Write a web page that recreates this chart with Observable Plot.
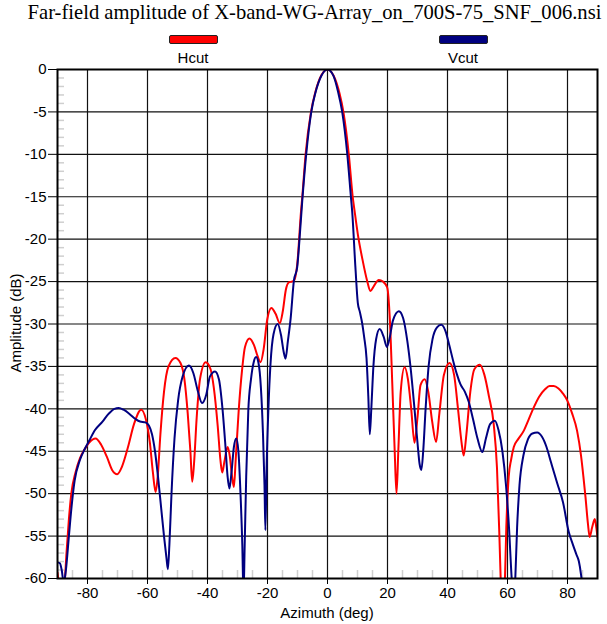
<!DOCTYPE html>
<html>
<head>
<meta charset="utf-8">
<script src="https://cdn.jsdelivr.net/npm/d3@7"></script>
<script src="https://cdn.jsdelivr.net/npm/@observablehq/plot@0.6"></script>
<style>
  body { margin: 0; background: #fff; }
  #wrap { position: relative; width: 607px; height: 624px; font-family: "Liberation Sans", Arial, sans-serif; color: #000; overflow: hidden; }
  #wrap svg { position: absolute; left: 0; top: 0; }
  #title { position: absolute; left: 11px; top: 1px; width: 607px; text-align: center; font-family: "Liberation Serif", "Times New Roman", serif; font-size: 20.6px; white-space: nowrap; }
  .sw { position: absolute; top: 35px; width: 47px; height: 7px; border: 1px solid #222; border-radius: 2px; }
  .lt { position: absolute; top: 49px; width: 80px; text-align: center; font-size: 15px; }
  #ylab { position: absolute; left: 15px; top: 323px; transform: translate(-50%, -50%) rotate(-90deg); font-size: 15px; white-space: nowrap; }
  #xlab { position: absolute; left: 327px; top: 612px; transform: translate(-50%, -50%); font-size: 15px; white-space: nowrap; }
</style>
</head>
<body>
<div id="wrap">
  <div id="title"></div>
  <div id="ylab"></div>
  <div id="xlab"></div>
</div>
<script>
const titleText = "Far-field amplitude of X-band-WG-Array_on_700S-75_SNF_006.nsi";
const seriesNames = ["Hcut", "Vcut"];
const seriesColors = ["#ff0000", "#000080"];
const xLabel = "Azimuth (deg)";
const yLabel = "Amplitude (dB)";
const xTicks = [-80, -60, -40, -20, 0, 20, 40, 60, 80];
const yTicks = [0, -5, -10, -15, -20, -25, -30, -35, -40, -45, -50, -55, -60];

const hcutAz = [-90,-89.4,-88.5,-87.7,-87,-86.2,-85.4,-84,-82.5,-81,-79.5,-77.3,-75.5,-73.5,-71.8,-70.1,-68.5,-66.5,-64.5,-62.1,-60.5,-59.2,-58.2,-57.3,-56.6,-55.7,-54.5,-53,-50.7,-49,-47.7,-46.6,-45.7,-45.1,-44.5,-43.6,-42.5,-40.6,-39,-37.9,-36.6,-35.7,-35.1,-34.4,-33.3,-32.6,-31.8,-31.2,-30.6,-29.6,-28.5,-27.5,-26,-24.5,-23.3,-22.3,-21.3,-20.1,-18.7,-17.3,-15.9,-14.9,-13.9,-12.9,-11.9,-11.2,-10.1,-8.8,-8.4,-7.3,-5.5,-4,-2,0,2,4,5.3,7.1,8.4,9,10.1,11.6,13.2,14.3,15.5,17.1,18.5,19.9,20.8,21.6,22.4,23,23.6,24.4,25.7,26.8,27.9,29,30,31,32.4,33.6,34.9,36.2,37.3,38.8,40.7,42.2,43.5,44.7,45.4,46.3,47.6,49,50.8,52.3,53.8,55.4,56.5,57.3,57.9,58.3,59,59.6,60.4,61.2,62.1,63.5,65.4,67,68.8,70.5,72.5,74,75.4,77,78.5,79.9,81.5,83.2,84.5,85.3,86,86.8,87.4,88.2,89.1,89.6,90];
const hcutDb = [-59.3,-61,-63,-61,-57,-53,-50,-47.5,-45.8,-44.8,-44,-43.5,-44.2,-45.7,-47.2,-47.7,-46.8,-44.5,-41.8,-40.1,-41.3,-44,-47.5,-49.8,-48,-43,-38,-35,-34,-34.6,-36.5,-40.5,-45,-48.6,-46.5,-41,-36.5,-34.5,-35.3,-37.5,-42,-46,-47.5,-46.3,-44.5,-45.5,-48,-49.2,-46,-40.2,-35.5,-32.7,-31.7,-32.5,-33.8,-34.5,-33,-29.5,-28.1,-28.8,-29.9,-28.5,-26,-25.1,-25,-24.9,-23,-16.6,-15,-10,-5,-2.6,-0.65,0,-0.7,-2.8,-5,-10,-15,-16.6,-19.4,-22.3,-24.9,-26.1,-25.5,-24.8,-25,-25.7,-29.6,-37.1,-45,-50,-45,-38,-35.1,-36.5,-40,-44,-41,-37.2,-36.5,-38,-41.5,-43.9,-40.5,-36,-34.6,-36,-40,-44,-45.5,-43,-38,-35.3,-34.8,-36,-38.5,-41.8,-47,-55,-62,-65,-62,-54,-48,-46,-44.5,-43.6,-42.6,-41.3,-39.8,-38.6,-37.7,-37.3,-37.3,-37.6,-38.2,-39,-40.5,-42.6,-45.5,-48,-50.4,-53.5,-55.1,-54,-53,-54,-55.1];

const vcutAz = [-90,-89.2,-88.6,-87.9,-87.2,-86.2,-85.3,-84.3,-82.5,-81,-79.5,-77.5,-75,-73,-71,-69.6,-68,-66,-64,-62.5,-60.7,-59.5,-58.5,-57.5,-56.5,-55.5,-54.5,-53.7,-53.2,-52.7,-52,-51,-49.8,-48.3,-46.2,-44.7,-43.3,-41.8,-40.4,-39.2,-37.5,-36.2,-35,-34,-33.3,-32.7,-32,-31.2,-30.4,-29.7,-29,-28.4,-28,-27.6,-27.1,-26.4,-25.5,-24.6,-23.8,-23,-22.2,-21.5,-21,-20.7,-20.3,-19.7,-19,-18,-16.6,-15.5,-14.6,-14,-13.2,-12.3,-11.2,-10.1,-9.6,-8.4,-7.1,-5.4,-4,-2,0,2,3.5,4.9,6.6,7.9,8.2,9.3,10.1,10.8,11.6,12.2,13,13.6,14.1,14.6,15.3,16.2,17.4,18.7,19.8,20.8,21.8,23.8,25.2,26.6,27.8,29,30,30.7,31.3,31.9,32.7,33.7,35,36.5,37.9,39.3,40.6,42,43.2,44.3,45.8,47.1,48.5,50,51.6,52.8,54.2,55.8,57,58.3,59.5,60.5,61.4,62.1,62.6,63.2,64,65.3,66.8,68.3,69.9,71.5,73,74.5,76.6,78.5,80.4,81.8,83,83.8,84.5,85];
const vcutDb = [-58.1,-58.2,-59,-60.5,-59,-55,-51.5,-48.5,-46,-44.8,-43.8,-42.5,-41.5,-40.6,-40,-39.9,-40.1,-40.6,-41.2,-41.5,-41.6,-42,-43,-45,-48,-51.5,-55,-57.5,-58.9,-56,-50,-43.5,-39,-36.2,-34.9,-35.8,-37.8,-39.3,-38.3,-36.2,-35.6,-36.5,-40,-44.5,-48,-49.4,-47.5,-44.5,-43.5,-45,-50,-56,-62,-56,-48,-40.2,-36.5,-34.5,-33.9,-34.6,-37.5,-43,-49,-54.3,-47,-40,-34.7,-31.2,-30,-31.3,-33.3,-34.1,-32,-29.4,-24.9,-23.3,-21.3,-15.4,-10,-5,-2.7,-0.7,0,-0.75,-2.6,-5,-10,-15.4,-16.6,-23.3,-27.5,-28.6,-30,-31.5,-34,-38.5,-43,-40,-35,-31.8,-30.6,-31.5,-32.7,-31.5,-29.6,-28.5,-29.3,-32,-35.5,-40,-44,-46.5,-47.2,-45,-40,-35,-31.8,-30.4,-30.1,-30.8,-32.5,-34.5,-36,-37.1,-38,-39.2,-41.2,-43.5,-45.1,-43.5,-41.8,-41.4,-42.5,-45,-49,-54,-60,-63,-60,-54,-49,-45.5,-43.6,-42.9,-42.8,-43.3,-44.5,-46.3,-48.8,-51,-54.5,-56,-57.2,-58,-59.5,-61];

const minorY = d3.range(-59, 0, 1).filter(v => v % 5 !== 0);
const minorX = d3.range(-85, 90, 5).filter(v => v % 20 !== 0);

const hcut = hcutAz.map((a, i) => ({az: a, db: hcutDb[i]}));
const vcut = vcutAz.map((a, i) => ({az: a, db: vcutDb[i]}));

const W = 607, H = 624, mL = 57, mR = 10, mT = 69, mB = 46;
const pw = W - mL - mR, ph = H - mT - mB;

const wrap = document.getElementById("wrap");
document.getElementById("title").textContent = titleText;
document.getElementById("xlab").textContent = xLabel;
document.getElementById("ylab").textContent = yLabel;

const legendX = [193, 463];
seriesNames.forEach((n, i) => {
  const sw = document.createElement("div");
  sw.className = "sw";
  sw.style.left = (legendX[i] - 24) + "px";
  sw.style.background = seriesColors[i];
  wrap.appendChild(sw);
  const t = document.createElement("div");
  t.className = "lt";
  t.style.left = (legendX[i] - 40) + "px";
  t.textContent = n;
  wrap.appendChild(t);
});

const fmt = d => String(d);
const chart = Plot.plot({
  width: W, height: H,
  marginLeft: mL, marginRight: mR, marginTop: mT, marginBottom: mB,
  style: {fontFamily: "Liberation Sans, Arial, sans-serif", fontSize: "15px", background: "transparent", color: "#000"},
  x: {domain: [-90, 90], label: null},
  y: {domain: [-60, 0], label: null},
  marks: [
    Plot.ruleY(minorY, {y: d => d, insetRight: pw - 7, stroke: "#cfcfcf", strokeWidth: 1.5}),
    Plot.ruleX(minorX, {x: d => d, insetTop: ph - 8, stroke: "#cfcfcf", strokeWidth: 1.5}),
    Plot.ruleX(xTicks, {x: d => d, stroke: "#111", strokeWidth: 1.2}),
    Plot.ruleY(yTicks.filter(v => v !== 0 && v !== -60), {y: d => d, stroke: "#111", strokeWidth: 1.2}),
    Plot.line(hcut, {x: "az", y: "db", stroke: seriesColors[0], strokeWidth: 2, curve: "monotone-x", clip: true}),
    Plot.line(vcut, {x: "az", y: "db", stroke: seriesColors[1], strokeWidth: 2, curve: "monotone-x", clip: true}),
    Plot.frame({stroke: "#000", strokeWidth: 2}),
    Plot.axisY(yTicks, {anchor: "left", tickSize: 9, tickPadding: 2, tickFormat: fmt, label: null}),
    Plot.axisX(xTicks, {anchor: "bottom", tickSize: 6, tickPadding: 3, tickFormat: fmt, label: null})
  ]
});
wrap.insertBefore(chart, wrap.firstChild);
</script>
</body>
</html>
